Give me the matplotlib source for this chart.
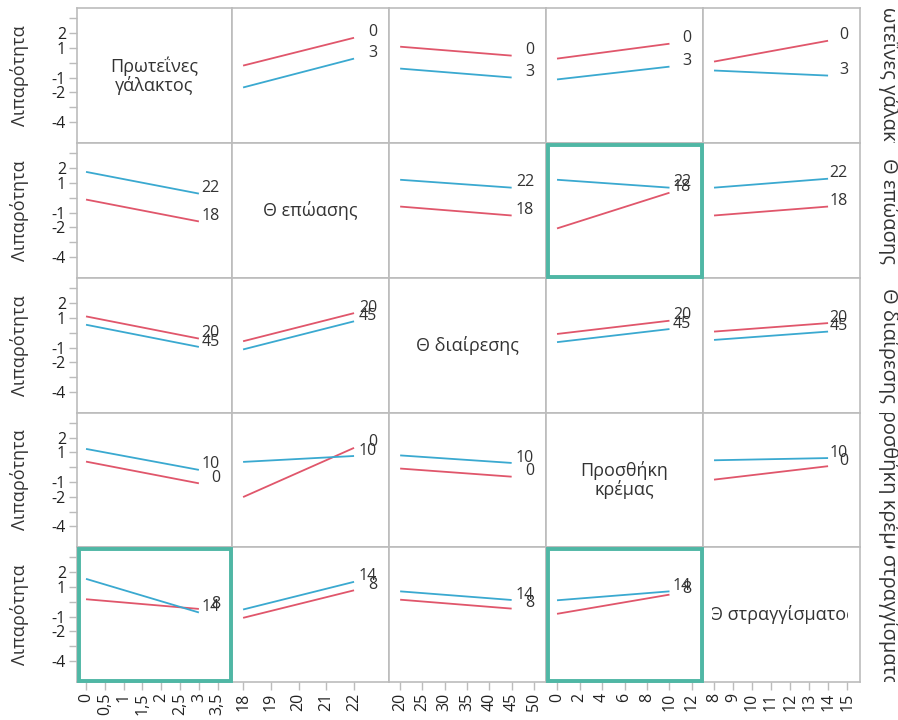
import matplotlib
matplotlib.use('Agg')
import matplotlib.pyplot as plt
from matplotlib.patches import Rectangle
from matplotlib.transforms import blended_transform_factory, Bbox, TransformedBbox

plt.rcParams['font.family'] = ['Open Sans', 'DejaVu Sans']

# ---------------- data ----------------
factor_names = ["Πρωτεΐνες γάλακτος", "Θ επώασης", "Θ διαίρεσης",
                "Προσθήκη κρέμας", "Θ στραγγίσματος"]
diag_labels = ["Πρωτεΐνες\nγάλακτος", "Θ επώασης", "Θ διαίρεσης",
               "Προσθήκη\nκρέμας", "Θ στραγγίσματος"]
level_low = [0, 18, 20, 0, 8]
level_high = [3, 22, 45, 10, 14]
x_ticks = [
    [0, 0.5, 1, 1.5, 2, 2.5, 3, 3.5],
    [18, 19, 20, 21, 22],
    [20, 25, 30, 35, 40, 45, 50],
    [0, 2, 4, 6, 8, 10, 12],
    [8, 9, 10, 11, 12, 13, 14, 15],
]
x_limits = [(-0.24, 3.88), (17.6, 23.26), (17.5, 52.7), (-0.98, 12.98), (7.42, 15.68)]
y_ticks = [3, 2, 1, 0, -1, -2, -3, -4]
y_tick_labels = ["", "2", "1", "", "-1", "-2", "", "-4"]
y_limits = (-5.4, 3.67)
y_label = "Λιπαρότητα"

# response at (column factor low, column factor high) for the row factor's low level (red)
red_start = [
    [None, -0.20, 1.07, 0.27, 0.07],
    [-0.13, None, -0.60, -2.07, -1.20],
    [1.09, -0.58, None, -0.09, 0.07],
    [0.38, -2.02, -0.09, None, -0.84],
    [0.16, -1.09, 0.13, -0.82, None],
]
red_end = [
    [None, 1.67, 0.47, 1.27, 1.47],
    [-1.60, None, -1.20, 0.33, -0.60],
    [-0.40, 1.31, None, 0.80, 0.64],
    [-1.09, 1.31, -0.64, None, 0.07],
    [-0.49, 0.76, -0.47, 0.47, None],
]
# ... and for the row factor's high level (blue)
blue_start = [
    [None, -1.67, -0.40, -1.13, -0.53],
    [1.73, None, 1.20, 1.20, 0.67],
    [0.53, -1.13, None, -0.64, -0.49],
    [1.24, 0.36, 0.80, None, 0.47],
    [1.53, -0.53, 0.69, 0.09, None],
]
blue_end = [
    [None, 0.27, -1.00, -0.27, -0.87],
    [0.27, None, 0.67, 0.67, 1.27],
    [-0.96, 0.76, None, 0.24, 0.07],
    [-0.18, 0.76, 0.29, None, 0.62],
    [-0.73, 1.33, 0.11, 0.69, None],
]
highlight = [(1, 3), (4, 0), (4, 3)]

# ---------------- styling ----------------
RED = "#e0566b"
BLUE = "#3aa9d0"
TEAL = "#4fb7a5"
GRID = "#bcbcbc"
TXT = "#333333"

W, H = 898, 720
fig = plt.figure(figsize=(W / 100, H / 100), dpi=100)
col_edges = [77, 232, 389, 546, 703, 860]
row_edges = [8, 143, 278, 413, 547, 682]


def fmt(v):
    s = ("%g" % v)
    return s.replace(".", ",")


n = len(factor_names)
axes = {}
for r in range(n):
    for c in range(n):
        x0, x1 = col_edges[c], col_edges[c + 1]
        y0, y1 = row_edges[r], row_edges[r + 1]
        ax = fig.add_axes([x0 / W, 1 - y1 / H, (x1 - x0) / W, (y1 - y0) / H])
        axes[(r, c)] = ax
        ax.set_xlim(*x_limits[c])
        ax.set_ylim(*y_limits)
        for sp in ax.spines.values():
            sp.set_color(GRID)
            sp.set_linewidth(1.2)
        ax.tick_params(colors=GRID, labelcolor="#222222", labelsize=11.5,
                       length=5.5, width=1.0, pad=2.5, direction='out')
        # x axis
        if r == n - 1:
            ax.set_xticks(x_ticks[c])
            ax.set_xticklabels([fmt(v) for v in x_ticks[c]], rotation=90)
        else:
            ax.set_xticks([])
        # y axis
        if c == 0:
            ax.set_yticks(y_ticks)
            ax.set_yticklabels(y_tick_labels)
        else:
            ax.set_yticks([])

        if r == c:
            t = ax.text(0.5, 0.5, diag_labels[r], transform=ax.transAxes,
                        ha='center', va='center', fontsize=13, color=TXT,
                        clip_on=True, linespacing=1.0)
            pw = x1 - x0
            t.set_clip_box(TransformedBbox(Bbox([[9 / pw, 0], [1 - 12 / pw, 1]]),
                                           ax.transAxes))
            continue

        xs = [level_low[c], level_high[c]]
        ax.plot(xs, [red_start[r][c], red_end[r][c]], color=RED, lw=1.3,
                solid_capstyle='butt')
        ax.plot(xs, [blue_start[r][c], blue_end[r][c]], color=BLUE, lw=1.3,
                solid_capstyle='butt')
        tr = blended_transform_factory(ax.transAxes, ax.transData)
        lab_x = 1 - 12 / (x1 - x0)
        ax.annotate(str(level_low[r]), xy=(lab_x, red_end[r][c]), xycoords=tr,
                    xytext=(0, 1), textcoords='offset points',
                    ha='right', va='baseline', fontsize=11.5, color=TXT)
        ax.annotate(str(level_high[r]), xy=(lab_x, blue_end[r][c]), xycoords=tr,
                    xytext=(0, 1), textcoords='offset points',
                    ha='right', va='baseline', fontsize=11.5, color=TXT)

# y labels on the left
for r in range(n):
    yc = (row_edges[r] + row_edges[r + 1]) / 2
    fig.text(19.5 / W, 1 - yc / H, y_label, rotation=90, ha='center',
             va='center', fontsize=13, color=TXT)

# row factor names on the right, clipped to the row
for r in range(n):
    y0, y1 = row_edges[r], row_edges[r + 1]
    rax = fig.add_axes([col_edges[-1] / W, 1 - y1 / H, (W - col_edges[-1]) / W,
                        (y1 - y0) / H])
    rax.set_axis_off()
    rax.text(29 / (W - col_edges[-1]), 0.5, factor_names[r], transform=rax.transAxes,
             rotation=270, ha='center', va='center', fontsize=14.5, color=TXT,
             clip_on=True)

# highlighted panels
for (r, c) in highlight:
    x0, x1 = col_edges[c], col_edges[c + 1]
    y0, y1 = row_edges[r], row_edges[r + 1]
    inset = 1.5
    rect = Rectangle(((x0 + inset) / W, 1 - (y1 - inset) / H),
                     (x1 - x0 - 2 * inset) / W, (y1 - y0 - 2 * inset) / H,
                     transform=fig.transFigure, fill=False, edgecolor=TEAL,
                     linewidth=2.8, zorder=10)
    fig.add_artist(rect)

fig.savefig("out.png", dpi=100)
